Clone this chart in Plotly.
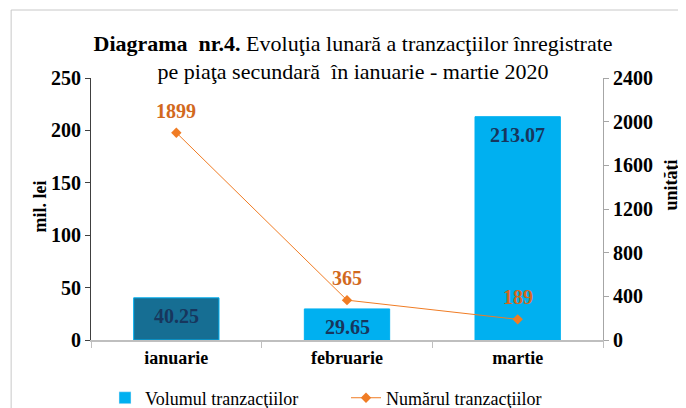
import plotly.graph_objects as go

categories = ["ianuarie", "februarie", "martie"]
volum = [40.25, 29.65, 213.07]          # mil. lei
numar = [1899, 365, 189]                # unităţi
volum_labels = ["40.25", "29.65", "213.07"]
numar_labels = ["1899", "365", "189"]
left_ticks = [0, 50, 100, 150, 200, 250]
right_ticks = [0, 400, 800, 1200, 1600, 2000, 2400]

FONT = "Liberation Serif"
BAR_BLUE = "#00B0F0"
BAR_SEL = "#166E93"
ORANGE_LINE = "#F07C24"
ORANGE_TXT = "#D2691E"
NAVY = "#17365D"

fig = go.Figure()
fig.add_trace(go.Bar(
    x=categories, y=volum, name="Volumul tranzacţiilor",
    marker=dict(color=[BAR_SEL, BAR_BLUE, BAR_BLUE],
                line=dict(color=BAR_BLUE, width=1)),
    width=0.5, yaxis="y", showlegend=False,
))
# legend entry for the bar series (plain blue swatch, as in the original)
fig.add_trace(go.Bar(
    x=categories, y=[None] * len(categories), name="Volumul tranzacţiilor",
    marker=dict(color=BAR_BLUE), width=0.5, yaxis="y", showlegend=True,
    hoverinfo="skip",
))
fig.add_trace(go.Scatter(
    x=categories, y=numar, name="Numărul tranzacţiilor", yaxis="y2",
    mode="lines+markers",
    line=dict(color=ORANGE_LINE, width=1),
    marker=dict(symbol="diamond", size=8, color=ORANGE_LINE),
))

# bar value labels (inside, near top)
for c, v, t in zip(categories, volum, volum_labels):
    fig.add_annotation(x=c, y=v, xref="x", yref="y", text="<b>%s</b>" % t,
                       showarrow=False, yanchor="top", yshift=-5,
                       font=dict(family=FONT, size=20, color=NAVY))
# line value labels (above markers)
for c, v, t in zip(categories, numar, numar_labels):
    fig.add_annotation(x=c, y=v, xref="x", yref="y2", text="<b>%s</b>" % t,
                       showarrow=False, yanchor="middle", yshift=22,
                       font=dict(family=FONT, size=20, color=ORANGE_TXT))

# axis titles
fig.add_annotation(x=-0.0996, y=0.51, xref="paper", yref="paper", text="<b>mil. lei</b>",
                   textangle=-90, showarrow=False, xanchor="center", yanchor="middle",
                   font=dict(family=FONT, size=18, color="black"))
fig.add_annotation(x=1.133, y=0.59, xref="paper", yref="paper", text="<b>unităţi</b>",
                   textangle=-90, showarrow=False, xanchor="center", yanchor="middle",
                   font=dict(family=FONT, size=18, color="black"))

# outer chart frame
fig.add_shape(type="rect", xref="paper", yref="paper",
              x0=-0.156, x1=1.3, y0=-0.4, y1=1.2595,
              line=dict(color="#C8C8C8", width=1), fillcolor="rgba(0,0,0,0)")

fig.update_layout(
    width=686, height=408,
    margin=dict(l=83, r=91, t=70, b=76),
    paper_bgcolor="white", plot_bgcolor="white",
    font=dict(family=FONT, size=19, color="black"),
    title=dict(
        text="<b>Diagrama  nr.4.</b> Evoluţia lunară a tranzacţiilor înregistrate<br>pe piaţa secundară  în ianuarie - martie 2020",
        x=0.503, xanchor="center", y=0.895, yanchor="middle",
        font=dict(family=FONT, size=22, color="black")),
    xaxis=dict(
        type="category", showline=True, linecolor="#BFBFBF", linewidth=2,
        ticks="outside", tickson="boundaries", ticklen=6, tickcolor="#BFBFBF",
        tickfont=dict(family=FONT, size=18, color="black"),
        tickvals=categories, ticktext=["<b>%s</b>" % c for c in categories],
        showgrid=False, zeroline=False),
    yaxis=dict(
        range=[0, 250], tickvals=left_ticks,
        ticktext=["<b>%d</b>" % t for t in left_ticks],
        showline=True, linecolor="#404040", linewidth=1,
        ticks="outside", ticklen=5, tickcolor="#404040",
        tickfont=dict(family=FONT, size=20, color="black"),
        showgrid=False, zeroline=False),
    yaxis2=dict(
        range=[0, 2400], tickvals=right_ticks,
        ticktext=["<b>%d</b>" % t for t in right_ticks],
        overlaying="y", side="right",
        showline=True, linecolor="#A6A6A6", linewidth=1,
        ticks="outside", ticklen=5, tickcolor="#A6A6A6",
        tickfont=dict(family=FONT, size=20, color="black"),
        showgrid=False, zeroline=False),
    legend=dict(orientation="h", xref="container", yref="container",
                x=0.1414, xanchor="left", y=0.044, yanchor="middle",
                font=dict(family=FONT, size=18, color="black"),
                entrywidth=196, entrywidthmode="pixels",
                bgcolor="rgba(0,0,0,0)"),
    barmode="overlay",
    bargap=0.5,
)

fig.write_html("out.html")
